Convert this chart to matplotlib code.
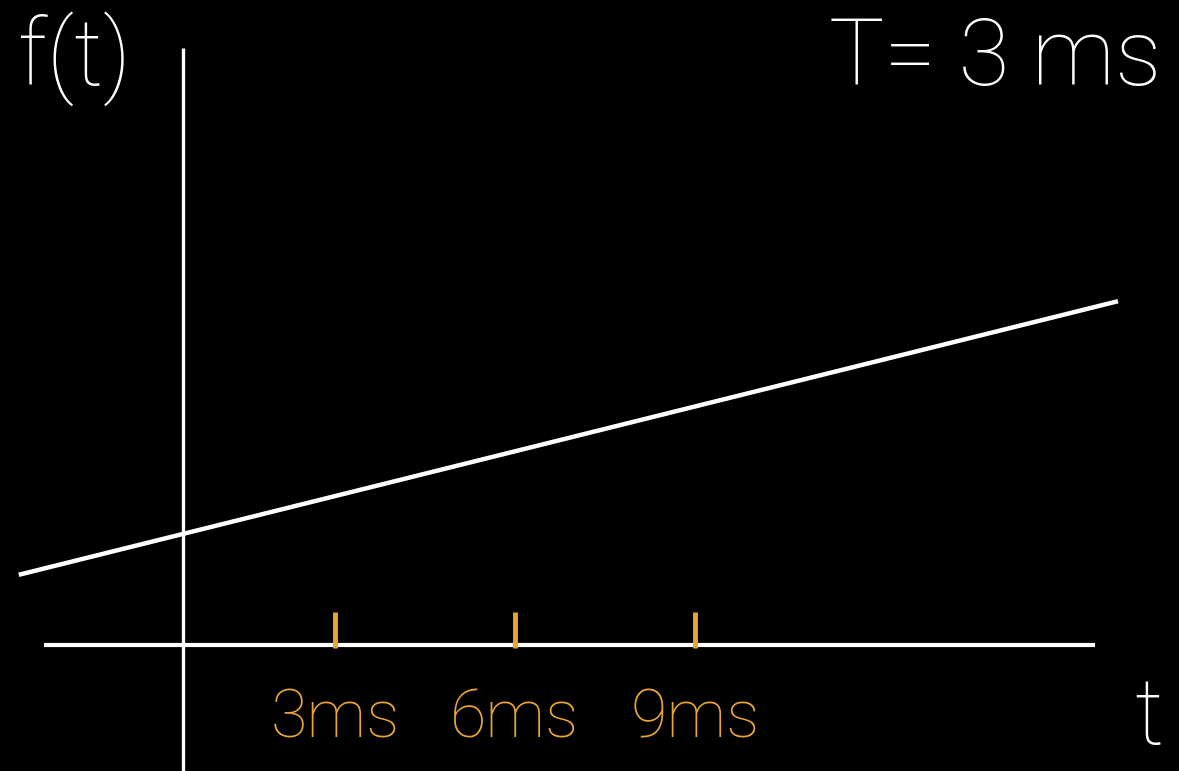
import matplotlib
matplotlib.use("Agg")
import matplotlib.pyplot as plt

# time axis in ms, f(t) in arbitrary units
line_t = [-2.27, 16.05]
line_f = [1.17, 5.73]
tick_t = [3, 6, 9]
tick_labels = ["3ms", "6ms", "9ms"]
period_label = "T= 3 ms"

orange = "#E8A535"
fig = plt.figure(figsize=(11.79, 7.71), dpi=100, facecolor="black")
ax = fig.add_axes([0, 0, 1, 1])
ax.set_facecolor("black")
ax.set_xlim(-2.583, 17.067)
ax.set_ylim(-2.1, 10.75)
ax.axis("off")

font = dict(family=["Roboto", "DejaVu Sans"], weight="light")

# axes
ax.plot([-1.85, 15.67], [0, 0], color="white", lw=3, solid_capstyle="butt")
ax.plot([0.47, 0.47], [-2.1, 9.95], color="white", lw=2.4, solid_capstyle="butt")

# the signal
ax.plot(line_t, line_f, color="white", lw=3.2, solid_capstyle="butt")

# ticks
for t, lab in zip(tick_t, tick_labels):
    ax.plot([t, t], [-0.05, 0.55], color=orange, lw=3.5, solid_capstyle="butt")
    ax.text(t, -1.55, lab, color=orange, fontsize=48, ha="center", va="baseline", **font)

fig.text(0.015, 0.89, "f(t)", color="white", fontsize=66, ha="left", va="baseline", **font)
fig.text(0.985, 0.89, period_label, color="white", fontsize=67, ha="right", va="baseline", **font)
fig.text(0.962, 0.035, "t", color="white", fontsize=66, ha="left", va="baseline", **font)

fig.savefig("out.png", dpi=100, facecolor="black")
